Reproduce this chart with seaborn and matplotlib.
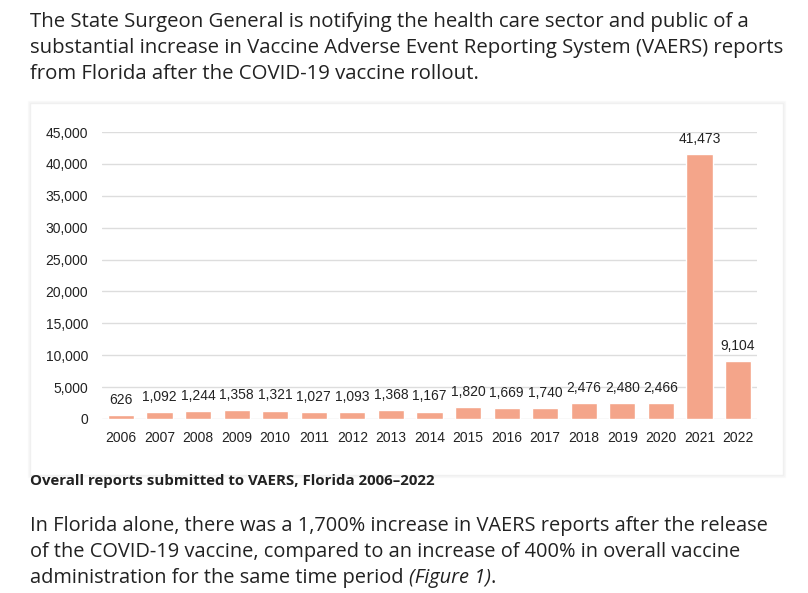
import pandas as pd
import matplotlib.pyplot as plt
import seaborn as sns
from matplotlib.patches import Rectangle

# data
years = ['2006', '2007', '2008', '2009', '2010', '2011', '2012', '2013', '2014',
         '2015', '2016', '2017', '2018', '2019', '2020', '2021', '2022']
reports = [626, 1092, 1244, 1358, 1321, 1027, 1093, 1368, 1167,
           1820, 1669, 1740, 2476, 2480, 2466, 41473, 9104]
y_ticks = [0, 5000, 10000, 15000, 20000, 25000, 30000, 35000, 40000, 45000]

intro_lines = [
    'The State Surgeon General is notifying the health care sector and public of a',
    'substantial increase in Vaccine Adverse Event Reporting System (VAERS) reports',
    'from Florida after the COVID-19 vaccine rollout.',
]
caption = 'Overall reports submitted to VAERS, Florida 2006\u20132022'
outro_lines = [
    'In Florida alone, there was a 1,700% increase in VAERS reports after the release',
    'of the COVID-19 vaccine, compared to an increase of 400% in overall vaccine',
]
outro_last = ['administration for the same time period ', '(Figure 1)', '.']

BAR_COLOR = '#f4a58a'
TEXT_COLOR = '#222222'

df = pd.DataFrame({'year': years, 'reports': reports})

sns.set_theme(style='white')
plt.rcParams['font.family'] = ['Liberation Sans', 'DejaVu Sans']

W, H = 808, 593
fig = plt.figure(figsize=(W / 100, H / 100), dpi=100)


def fx(px):
    return px / W


def fy(px):
    return 1 - px / H


# card behind the chart (soft shadow + border)
card_l, card_t, card_r, card_b = 30, 103, 783, 475
for off, a in [(2, 0.02), (1, 0.03)]:
    fig.patches.append(Rectangle((fx(card_l - off), fy(card_b + off)),
                                 fx(card_r - card_l + 2 * off), (card_b - card_t + 2 * off) / H,
                                 transform=fig.transFigure, facecolor='none',
                                 edgecolor=(0, 0, 0, a), linewidth=1, zorder=-2))
fig.patches.append(Rectangle((fx(card_l), fy(card_b)), fx(card_r - card_l), (card_b - card_t) / H,
                             transform=fig.transFigure, facecolor='white',
                             edgecolor='#f0f0f0', linewidth=1, zorder=-1))

ax = fig.add_axes([fx(102), fy(419), fx(757 - 102), (419 - 132) / H])
ax.set_facecolor('none')
sns.barplot(data=df, x='year', y='reports', color=BAR_COLOR, saturation=1,
            width=0.68, ax=ax, zorder=3)

ax.set_ylim(0, 45000)
ax.set_xlim(-0.49, len(years) - 0.51)
ax.set_yticks(y_ticks)
ax.set_yticklabels([f'{v:,}' for v in y_ticks])
ax.yaxis.grid(True, color='#dddddd', linewidth=1)
ax.set_axisbelow(True)
for s in ax.spines.values():
    s.set_visible(False)
ax.tick_params(axis='both', length=0, labelsize=10, labelcolor=TEXT_COLOR)
ax.tick_params(axis='y', pad=10)
ax.tick_params(axis='x', pad=9)
ax.set_xlabel('')
ax.set_ylabel('')

ax.bar_label(ax.containers[0], labels=[f'{v:,}' for v in reports],
             padding=6, fontsize=10, color=TEXT_COLOR)

# surrounding text
para_font = ['Open Sans', 'DejaVu Sans']
for i, line in enumerate(intro_lines):
    fig.text(fx(30), fy(22 + 26 * i), line, fontsize=14.7, family=para_font,
             color=TEXT_COLOR, va='center', ha='left')

fig.text(fx(30), fy(481), caption, fontsize=10.8, family=para_font,
         fontweight='bold', color=TEXT_COLOR, va='center', ha='left')

for i, line in enumerate(outro_lines):
    fig.text(fx(30), fy(526 + 26 * i), line, fontsize=14.4, family=para_font,
             color=TEXT_COLOR, va='center', ha='left')

renderer = fig.canvas.get_renderer()
x0 = fx(30)
for part, style in zip(outro_last, ['normal', 'italic', 'normal']):
    t = fig.text(x0, fy(578), part, fontsize=14.4, family=para_font, style=style,
                 color=TEXT_COLOR, va='center', ha='left')
    bb = t.get_window_extent(renderer=renderer)
    x0 = bb.x1 / W

fig.savefig('out.png', dpi=100)
